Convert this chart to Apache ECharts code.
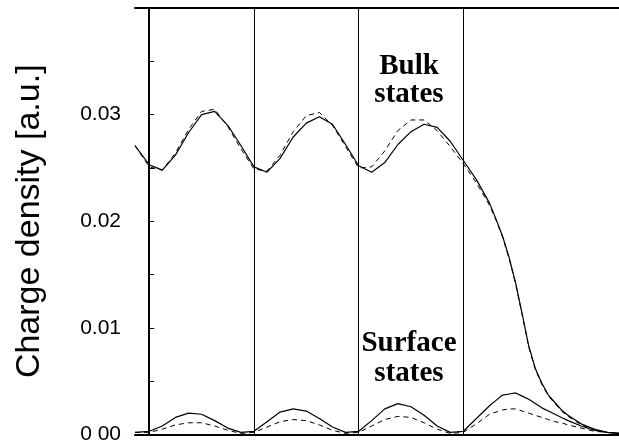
<!DOCTYPE html>
<html>
<head>
<meta charset="utf-8">
<script src="https://cdn.jsdelivr.net/npm/echarts@6/dist/echarts.min.js"></script>
<style>html,body{margin:0;padding:0;background:#fff}#c{width:619px;height:445px}</style>
</head>
<body>
<div id="c"></div>
<script>
// x positions in units of one layer period (vertical lines at 0,1,2,3)
const xPos = [-0.136,0,0.125,0.25,0.375,0.5,0.625,0.75,0.875,1,1.125,1.25,1.375,1.5,1.625,1.75,1.875,2,2.125,2.25,2.375,2.5,2.625,2.75,2.875,3,3.125,3.25,3.3125,3.375,3.4375,3.5,3.5625,3.625,3.6875,3.75,3.8125,3.875,3.9375,4,4.125,4.25,4.375,4.487];
const bulkSolid = [0.0271,0.0253,0.0248,0.0262,0.0283,0.0300,0.0303,0.0290,0.0271,0.0251,0.0246,0.0259,0.0279,0.0292,0.0298,0.0291,0.0272,0.0252,0.0246,0.0255,0.0272,0.0284,0.0291,0.0288,0.0275,0.0257,0.0239,0.0217,0.0202,0.0186,0.0166,0.0142,0.0113,0.0083,0.0062,0.0048,0.0037,0.0030,0.0023,0.0018,0.0010,0.0005,0.0002,0.0001];
const bulkDashed = [0.0271,0.0251,0.0248,0.0264,0.0286,0.0303,0.0305,0.0289,0.0268,0.0249,0.0247,0.0262,0.0284,0.0299,0.0302,0.0290,0.0270,0.0250,0.0251,0.0266,0.0285,0.0295,0.0295,0.0285,0.0270,0.0254,0.0236,0.0215,0.0201,0.0185,0.0165,0.0141,0.0112,0.0082,0.0061,0.0047,0.0036,0.0029,0.0022,0.0017,0.0009,0.0004,0.0002,0.0001];
const surfSolid = [0.0002,0.0003,0.0008,0.0016,0.0020,0.0019,0.0013,0.0006,0.0002,0.0003,0.0012,0.0021,0.0024,0.0022,0.0015,0.0007,0.0002,0.0003,0.0013,0.0024,0.0029,0.0026,0.0018,0.0008,0.0002,0.0003,0.0015,0.0027,0.0032,0.0037,0.0038,0.0039,0.0036,0.0033,0.0029,0.0025,0.0022,0.0019,0.0016,0.0013,0.0008,0.0004,0.0002,0.0001];
const surfDashed = [0.0002,0.0002,0.0005,0.0009,0.0011,0.0011,0.0008,0.0004,0.0001,0.0002,0.0007,0.0012,0.0014,0.0013,0.0009,0.0004,0.0001,0.0002,0.0008,0.0014,0.0017,0.0016,0.0011,0.0005,0.0001,0.0002,0.0010,0.0019,0.0021,0.0023,0.0024,0.0024,0.0022,0.0020,0.0018,0.0016,0.0014,0.0012,0.0011,0.0009,0.0006,0.0003,0.0002,0.0001];
const layerLines = [0,1,2,3];
const yTickLabels = {"0":"0 00","0.01":"0.01","0.02":"0.02","0.03":"0.03"};
const yAxisTitle = "Charge density [a.u.]";
const bulkLabel = "Bulk\nstates";
const surfLabel = "Surface\nstates";

const pair = arr => xPos.map((x,i)=>[x,arr[i]]);
const chart = echarts.init(document.getElementById('c'), null, {renderer:'canvas'});
const lineBase = {type:'line', showSymbol:false, symbol:'none', smooth:false, silent:true, animation:false};
chart.setOption({
  animation:false,
  grid:{left:135, right:0, top:8, bottom:9},
  xAxis:[{
    type:'value', min:-0.136, max:4.487, position:'bottom',
    axisLine:{show:true, onZero:false, lineStyle:{color:'#000', width:2}},
    axisTick:{show:false}, axisLabel:{show:false}, splitLine:{show:false}
  },{
    type:'value', min:-0.136, max:4.487, position:'top',
    axisLine:{show:true, onZero:false, lineStyle:{color:'#000', width:2}},
    axisTick:{show:false}, axisLabel:{show:false}, splitLine:{show:false}
  }],
  yAxis:{
    type:'value', min:0, max:0.04, interval:0.005,
    name:yAxisTitle, nameLocation:'middle', nameGap:88, nameRotate:90,
    nameTextStyle:{fontFamily:'Liberation Sans', fontSize:34, color:'#000'},
    axisLine:{show:true, lineStyle:{color:'#000', width:2}},
    axisTick:{show:true, inside:true, length:5, lineStyle:{color:'#000', width:1}},
    axisLabel:{
      fontFamily:'Liberation Sans', fontSize:21, color:'#000', margin:14,
      formatter:v=>{const k=(Math.round(v*1000)/1000).toString(); return yTickLabels[k]!==undefined?yTickLabels[k]:'';}
    },
    splitLine:{show:false}
  },
  series:[
    Object.assign({}, lineBase, {name:'bulk', data:pair(bulkSolid), lineStyle:{color:'#000', width:1.2},
      markLine:{silent:true, symbol:'none', label:{show:false}, animation:false,
        lineStyle:{color:'#000', width:1, type:'solid'},
        data:layerLines.map(v=>({xAxis:v}))}}),
    Object.assign({}, lineBase, {name:'bulk2', data:pair(bulkDashed), lineStyle:{color:'#000', width:1, type:[5,4]}}),
    Object.assign({}, lineBase, {name:'surf', data:pair(surfSolid), lineStyle:{color:'#000', width:1.2}}),
    Object.assign({}, lineBase, {name:'surf2', data:pair(surfDashed), lineStyle:{color:'#000', width:1, type:[5,4]}})
  ],
  graphic:[
    {type:'text', style:{text:bulkLabel, x:409, y:53, textAlign:'center', fontFamily:'Liberation Serif', fontWeight:'bold', fontSize:29, lineHeight:28, fill:'#000'}},
    {type:'text', style:{text:surfLabel, x:409, y:329, textAlign:'center', fontFamily:'Liberation Serif', fontWeight:'bold', fontSize:29, lineHeight:30, fill:'#000'}}
  ]
});
</script>
</body>
</html>
